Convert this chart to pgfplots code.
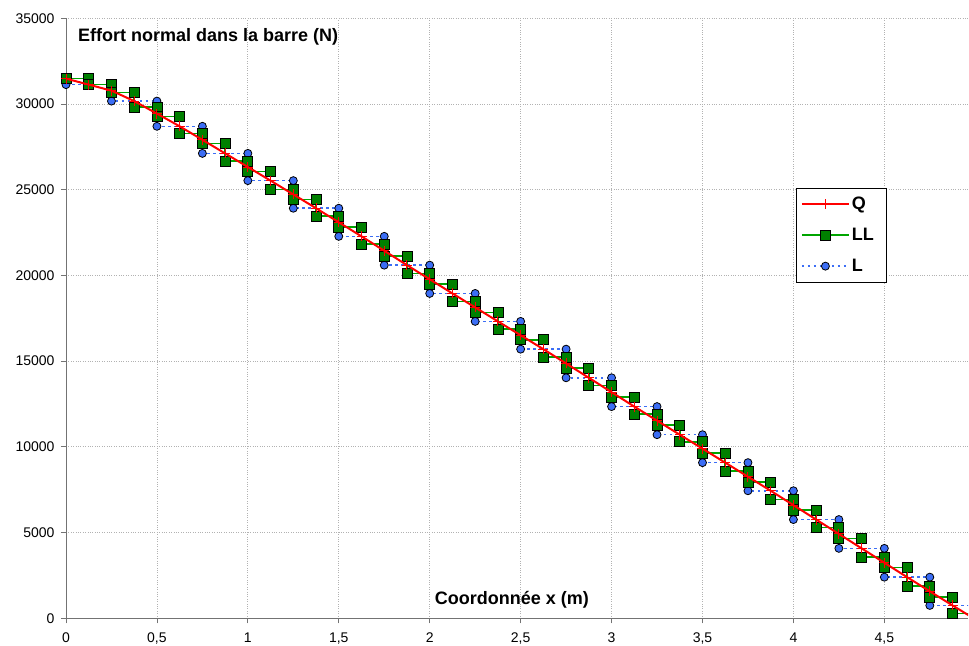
\documentclass[border=0pt]{standalone}
\usepackage{fontspec}
\setmainfont{Liberation Sans}
\usepackage{pgfplots}
\pgfplotsset{compat=1.18}

\definecolor{qred}{RGB}{255,0,0}
\definecolor{carre}{RGB}{0,128,0}
\definecolor{trait}{RGB}{0,165,0}
\definecolor{lblue}{RGB}{60,110,245}

\pgfplotsset{
  legend image code/.code={%
    \draw[mark repeat=2,mark phase=2,#1] plot coordinates {(0bp,0bp) (23.5bp,0bp) (47bp,0bp)};}
}

\begin{document}
\begin{tikzpicture}
\begin{axis}[
  name=ax,
  scale only axis,
  width=902bp, height=600bp,
  xmin=0, xmax=4.96,
  ymin=0, ymax=35000,
  axis x line=bottom, axis y line=left,
  axis line style={-, draw=black!55, line width=1bp},
  xtick={0,0.5,...,4.5},
  ytick={0,5000,...,35000},
  scaled y ticks=false,
  tick align=outside,
  major tick length=5bp,
  tick style={draw=black!55, line width=0.8bp},
  grid=major,
  grid style={dotted, draw=black!30, line width=0.8bp},
  ticklabel style={font=\fontsize{14bp}{16bp}\selectfont},
  xticklabel style={yshift=-6bp},
  yticklabel style={xshift=-3bp},
  /pgf/number format/use comma,
  /pgf/number format/1000 sep={},
  /pgf/number format/assume math mode=true,
  clip mode=individual,
  reverse legend,
  legend cell align=left,
  legend style={at={(0.809,0.717)}, anchor=north west,
    draw=black, fill=white,
    font=\fontsize{18bp}{20bp}\selectfont\bfseries,
    nodes={text width=27bp, align=left},
    row sep=13bp, inner xsep=5bp, inner ysep=7bp},
]
% L : linear elements, constant force per element
\addplot[lblue, line width=1.5bp, dash pattern=on 2.5bp off 3.5bp,
  mark=*, mark size=4bp,
  mark options={solid, fill=lblue, draw=black, line width=0.8bp}]
  coordinates {
  (0,31130) (0.25,31130) (0.25,30170) (0.5,30170)
  (0.5,28700) (0.75,28700) (0.75,27120) (1,27120)
  (1,25530) (1.25,25530) (1.25,23920) (1.5,23920)
  (1.5,22280) (1.75,22280) (1.75,20600) (2,20600)
  (2,18950) (2.25,18950) (2.25,17320) (2.5,17320)
  (2.5,15700) (2.75,15700) (2.75,14030) (3,14030)
  (3,12350) (3.25,12350) (3.25,10710) (3.5,10710)
  (3.5,9080) (3.75,9080) (3.75,7440) (4,7440)
  (4,5760) (4.25,5760) (4.25,4080) (4.5,4080)
  (4.5,2400) (4.75,2400) (4.75,750) (5,750)
  };
% LL
\addplot[trait, line width=1.6bp,
  mark=square*, mark size=5bp,
  mark options={fill=carre, draw=black, line width=0.8bp}]
  coordinates {
  (0,31480) (0.125,31480) (0.125,31130) (0.25,31130)
  (0.25,30670) (0.375,30670) (0.375,29830) (0.5,29830)
  (0.5,29270) (0.625,29270) (0.625,28280) (0.75,28280)
  (0.75,27690) (0.875,27690) (0.875,26680) (1,26680)
  (1,26060) (1.125,26060) (1.125,25020) (1.25,25020)
  (1.25,24440) (1.375,24440) (1.375,23460) (1.5,23460)
  (1.5,22830) (1.625,22830) (1.625,21820) (1.75,21820)
  (1.75,21120) (1.875,21120) (1.875,20110) (2,20110)
  (2,19500) (2.125,19500) (2.125,18490) (2.25,18490)
  (2.25,17830) (2.375,17830) (2.375,16870) (2.5,16870)
  (2.5,16250) (2.625,16250) (2.625,15240) (2.75,15240)
  (2.75,14590) (2.875,14590) (2.875,13580) (3,13580)
  (3,12910) (3.125,12910) (3.125,11900) (3.25,11900)
  (3.25,11280) (3.375,11280) (3.375,10300) (3.5,10300)
  (3.5,9630) (3.625,9630) (3.625,8590) (3.75,8590)
  (3.75,7950) (3.875,7950) (3.875,6920) (4,6920)
  (4,6300) (4.125,6300) (4.125,5290) (4.25,5290)
  (4.25,4650) (4.375,4650) (4.375,3580) (4.5,3580)
  (4.5,2960) (4.625,2960) (4.625,1870) (4.75,1870)
  (4.75,1240) (4.875,1240) (4.875,270) (5,270)
  };
% Q : quadratic elements
\addplot[qred, line width=2bp, mark=+, mark size=5bp,
  mark options={qred, line width=1bp}]
  coordinates {
  (0,31480) (0.125,31130) (0.25,30780) (0.375,30170) (0.5,29440)
  (0.625,28700) (0.75,27910) (0.875,27120) (1,26325)
  (1.125,25530) (1.25,24725) (1.375,23920) (1.5,23100)
  (1.625,22280) (1.75,21440) (1.875,20600) (2,19775)
  (2.125,18950) (2.25,18135) (2.375,17320) (2.5,16510)
  (2.625,15700) (2.75,14865) (2.875,14030) (3,13190)
  (3.125,12350) (3.25,11530) (3.375,10710) (3.5,9895)
  (3.625,9080) (3.75,8260) (3.875,7440) (4,6600)
  (4.125,5760) (4.25,4920) (4.375,4080) (4.5,3240)
  (4.625,2400) (4.75,1575) (4.875,750) (5,-60)
  };
\legend{L,LL,Q}
\node[anchor=base west, inner sep=0pt, font=\fontsize{18bp}{20bp}\selectfont\bfseries]
  at (axis cs:0.066,33640) {Effort normal dans la barre (N)};
\node[anchor=base west, inner sep=0pt, font=\fontsize{18bp}{20bp}\selectfont\bfseries]
  at (axis cs:2.027,776) {Coordonnée x (m)};
\end{axis}
\pgfresetboundingbox
\path[use as bounding box] ([xshift=-66bp,yshift=-27.7bp]ax.south west)
  rectangle ([xshift=1bp,yshift=18.3bp]ax.north east);
\end{tikzpicture}
\end{document}
